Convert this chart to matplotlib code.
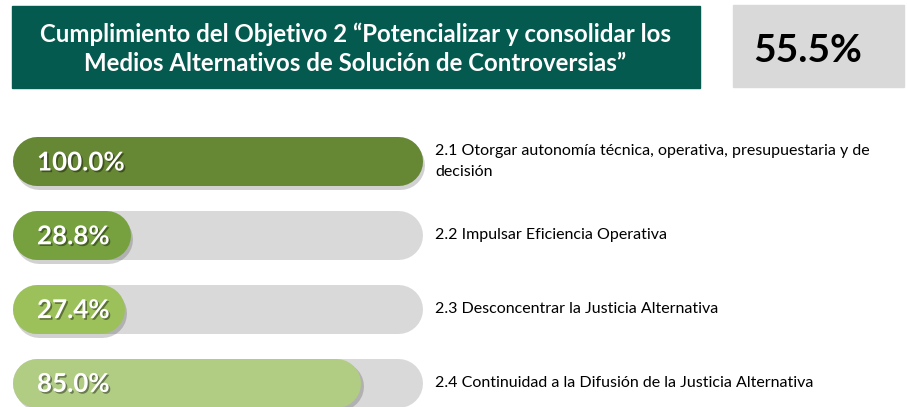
import matplotlib.pyplot as plt
from matplotlib.patches import Rectangle
from matplotlib import patheffects as pe
from matplotlib import transforms as mtransforms

plt.rcParams['font.family'] = ['Lato', 'DejaVu Sans']

titulo = "Cumplimiento del Objetivo 2 \u201cPotencializar y consolidar los\nMedios Alternativos de Soluci\u00f3n de Controversias\u201d"
total = 55.5
valores = [100.0, 28.8, 27.4, 85.0]
etiquetas = [
    "2.1 Otorgar autonom\u00eda t\u00e9cnica, operativa, presupuestaria y de\ndecisi\u00f3n",
    "2.2 Impulsar Eficiencia Operativa",
    "2.3 Desconcentrar la Justicia Alternativa",
    "2.4 Continuidad a la Difusi\u00f3n de la Justicia Alternativa",
]
colores = ["#668734", "#76A13E", "#9CC15B", "#B1CD84"]

W, H = 907, 407
fig = plt.figure(figsize=(W / 100, H / 100), dpi=100)

def fx(px):
    return px / W

def fy(py):
    return 1 - py / H

# encabezado
fig.patches.append(Rectangle((fx(12), fy(88)), fx(700) - fx(12), fy(6) - fy(88),
                             transform=fig.transFigure, color="#045A4E", zorder=0))
fig.text(fx(355), fy(48.5), titulo, color="white", fontsize=17.3, fontweight="bold",
         ha="center", va="center", linespacing=1.3)
fig.patches.append(Rectangle((fx(733), fy(87)), fx(904) - fx(733), fy(5) - fy(87),
                             transform=fig.transFigure, color="#D9D9D9", zorder=0))
fig.text(fx(808), fy(50), f"{total:.1f}%", color="black", fontsize=28, fontweight="bold",
         ha="center", va="center")

# barras
x0, x1 = 12, 422
paso = 73.8
y_top = 161.5 - paso / 2
ax = fig.add_axes([fx(x0), fy(y_top + 4 * paso), fx(x1) - fx(x0), 4 * paso / H])
ax.set_xlim(0, 100)
ax.set_ylim(3.5, -0.5)
ax.axis("off")

alto = 49  # px
lw = alto * 72 / 100
r = (alto / 2) * 100 / (x1 - x0)
sombra = mtransforms.offset_copy(ax.transData, fig=fig, x=2.5, y=-3.5, units="dots")

for i, (v, c, lab) in enumerate(zip(valores, colores, etiquetas)):
    ax.plot([r, 100 - r], [i, i], color="#D9D9D9", lw=lw, solid_capstyle="round",
            zorder=1, clip_on=False)
    ax.plot([r, v - r], [i, i], color="#000000", alpha=0.18, lw=lw, solid_capstyle="round",
            zorder=2, clip_on=False, transform=sombra)
    ax.plot([r, v - r], [i, i], color=c, lw=lw, solid_capstyle="round",
            zorder=3, clip_on=False)
    ax.annotate(f"{v:.1f}%", (0, i), xytext=(25, -1), textcoords="offset pixels",
                color="white", fontsize=18.7, fontweight="bold", ha="left", va="center",
                zorder=4, path_effects=[pe.withSimplePatchShadow(offset=(1.2, -1.2),
                                                                 shadow_rgbFace="black", alpha=0.4)])
    ax.annotate(lab, (100, i), xytext=(13, 0), textcoords="offset pixels",
                color="black", fontsize=11.5, ha="left", va="center", linespacing=1.65,
                annotation_clip=False)

fig.savefig("out.png", dpi=100)
